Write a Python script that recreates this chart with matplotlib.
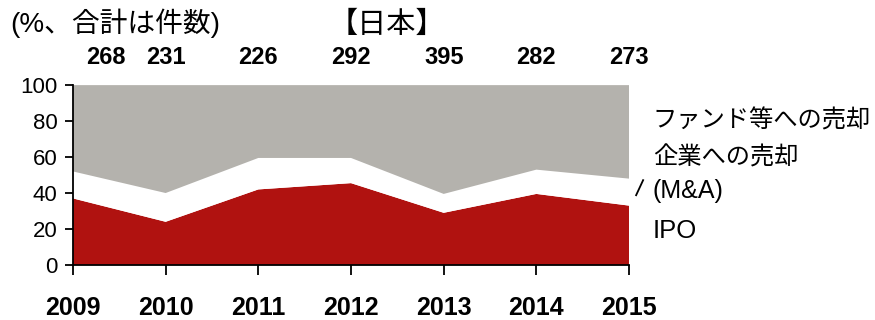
import matplotlib
matplotlib.use("Agg")
import matplotlib.pyplot as plt

plt.rcParams['font.family'] = ['Liberation Sans', 'Noto Sans CJK JP', 'DejaVu Sans']

# 日本のVC投資先のイグジット内訳 (%) と件数
years = [2009, 2010, 2011, 2012, 2013, 2014, 2015]
counts = [268, 231, 226, 292, 395, 282, 273]
ipo = [37, 24, 42, 45.5, 29, 39.5, 33]
ma = [15, 16, 17.5, 14, 10.5, 13.5, 15]
fund = [48, 60, 40.5, 40.5, 60.5, 47, 52]

fig = plt.figure(figsize=(8.75, 3.2), dpi=100)
ax = fig.add_axes([0.0834, 0.172, 0.6355, 0.562])

ax.stackplot(years, ipo, ma, fund,
             colors=['#b01210', '#ffffff', '#b4b2ad'], linewidth=0)

ax.set_xlim(2009, 2015)
ax.set_ylim(0, 100)
ax.set_yticks([0, 20, 40, 60, 80, 100])
ax.set_xticks(years)
ax.set_xticklabels([str(y) for y in years], fontsize=18, fontweight='bold')
ax.tick_params(axis='y', labelsize=16, length=6, width=1.3, pad=5)
ax.tick_params(axis='x', length=7, width=1.3, pad=15)
for s in ['top', 'right']:
    ax.spines[s].set_visible(False)
for s in ['left', 'bottom']:
    ax.spines[s].set_linewidth(1.3)

# 件数 (上部)
offsets = [24, 0, 0, 0, 0, 0, 0]
for x, c, dx in zip(years, counts, offsets):
    ax.annotate(str(c), xy=(x, 100), xytext=(dx, 20),
                textcoords='offset points', ha='center', va='center',
                fontsize=17, fontweight='bold')

fig.text(0.012, 0.928, '(%、合計は件数)', fontsize=20, ha='left', va='center')
fig.text(0.442, 0.922, '【日本】', fontsize=21, ha='center', va='center')

fig.text(0.746, 0.622, 'ファンド等への売却', fontsize=17.5, ha='left', va='center')
fig.text(0.746, 0.506, '企業への売却', fontsize=17.5, ha='left', va='center')
fig.text(0.746, 0.403, '(M&A)', fontsize=18, ha='left', va='center')
fig.text(0.746, 0.278, 'IPO', fontsize=18.5, ha='left', va='center')
fig.add_artist(plt.Line2D([0.727, 0.735], [0.39, 0.437], color='black', lw=1.3))

fig.savefig('out.png', dpi=100)
